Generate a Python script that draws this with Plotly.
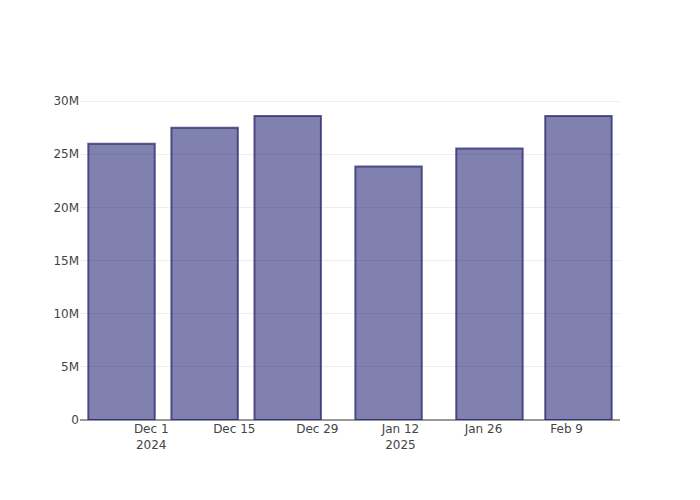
import plotly.graph_objects as go

dates = ["2024-11-26", "2024-12-10", "2024-12-24", "2025-01-10", "2025-01-27", "2025-02-11"]
values = [26.0e6, 27.5e6, 28.6e6, 23.85e6, 25.55e6, 28.6e6]

fig = go.Figure(go.Bar(
    x=dates, y=values,
    marker=dict(color="rgba(25,25,112,0.55)",
                line=dict(color="rgba(40,40,110,0.75)", width=2)),
))
fig.update_layout(
    template="plotly_white",
    width=700, height=500,
    margin=dict(l=72, r=88, t=92, b=88),
    font=dict(family="DejaVu Sans", color="#444"),
    showlegend=False,
)
fig.update_xaxes(type="date", showgrid=False,
                 tickformat="%b %-d\n%Y", dtick=14 * 86400000, tick0="2024-12-01")
fig.update_yaxes(gridcolor="#eeeeee", zeroline=True, zerolinecolor="#999", zerolinewidth=2,
                 tickvals=[0, 5e6, 10e6, 15e6, 20e6, 25e6, 30e6],
                 ticktext=["0", "5M", "10M", "15M", "20M", "25M", "30M"])
fig.write_html("out.html")
